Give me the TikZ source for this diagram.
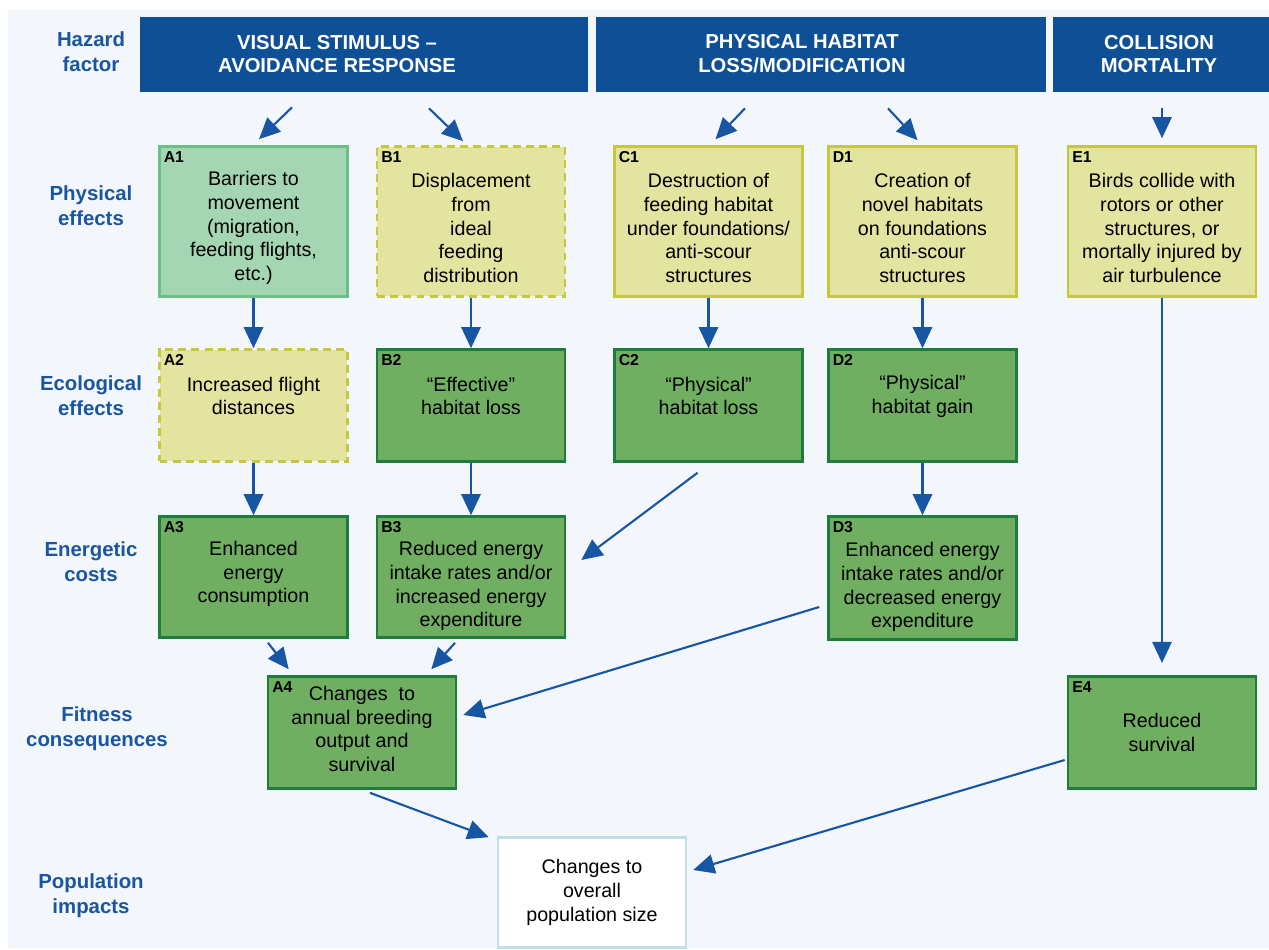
\documentclass[tikz,border=0pt]{standalone}
\usepackage{fontspec}
\setmainfont{Liberation Sans}
\usetikzlibrary{arrows.meta}

\definecolor{bg}{HTML}{F3F6FB}
\definecolor{hdrblue}{HTML}{0F4F96}
\definecolor{lblblue}{HTML}{1A56A0}
\definecolor{arrblue}{HTML}{1656A3}
\definecolor{lgfill}{HTML}{A5D6B3}
\definecolor{lgdraw}{HTML}{6CBF85}
\definecolor{yfill}{HTML}{E2E49F}
\definecolor{ydraw}{HTML}{C5C83F}
\definecolor{gfill}{HTML}{70AE62}
\definecolor{gdraw}{HTML}{1E7D3C}
\definecolor{popdraw}{HTML}{C2DFE8}

\begin{document}
\begin{tikzpicture}[x=0.02cm,y=-0.02cm]
\tikzset{box/.style={line width=1.5pt,minimum width=3.76cm,inner sep=0pt}}
\tikzset{lgbox/.style={box,draw=lgdraw,fill=lgfill}}
\tikzset{ybox/.style={box,draw=ydraw,fill=yfill}}
\tikzset{dbox/.style={ybox,dash pattern=on 4.5pt off 3pt}}
\tikzset{gbox/.style={box,draw=gdraw,fill=gfill}}
\tikzset{boxid/.style={anchor=north west,inner xsep=3pt,inner ysep=3.5pt,font=\bfseries\fontsize{9}{10}\selectfont}}
\tikzset{txt/.style={align=center,inner sep=0pt,font=\fontsize{11.2}{13.6}\selectfont}}
\tikzset{hdr/.style={fill=hdrblue,minimum height=1.5cm,inner sep=0pt}}
\tikzset{htxt/.style={align=center,text=white,font=\bfseries\fontsize{11.5}{13.6}\selectfont}}
\tikzset{row/.style={align=center,text=lblblue,font=\bfseries\fontsize{11.6}{14}\selectfont}}
\tikzset{arr/.style={draw=arrblue,line width=1.2pt,-{Triangle[length=12pt,width=11pt]}}}

\fill[white] (0,0) rectangle (1269,950);
\fill[bg] (8,10) rectangle (1269,948);
\useasboundingbox (0,0) rectangle (1269,950);

% row labels
\node[row] (hz) at (91,52) {Hazard\\factor};
\node[row] (pe) at (91,205.5) {Physical\\effects};
\node[row] (ee) at (91,396) {Ecological\\effects};
\node[row] (ec) at (91,562) {Energetic\\costs};
\node[row] (fc) at (97,729) {Fitness\\consequences};
\node[row] (pi) at (91,895.5) {Population\\impacts};

% hazard factors
\node[hdr,minimum width=8.96cm] (vis) at (364,54.5) {};
\node[hdr,minimum width=9cm] (phy) at (821,54.5) {};
\node[hdr,minimum width=4.32cm] (col) at (1161,54.5) {};
\node[htxt] (vist) at (337,54) {VISUAL STIMULUS --\\AVOIDANCE RESPONSE};
\node[htxt] (phyt) at (802,54) {PHYSICAL HABITAT\\LOSS/MODIFICATION};
\node[htxt] (colt) at (1159,54) {COLLISION\\MORTALITY};

% physical effects
\node[lgbox,minimum height=3cm,label={[boxid]north west:A1}] (A1) at (253.5,221.5) {};
\node[dbox,minimum height=3cm,label={[boxid]north west:B1}] (B1) at (471,221.5) {};
\node[ybox,minimum height=3cm,label={[boxid]north west:C1}] (C1) at (708.5,221.5) {};
\node[ybox,minimum height=3cm,label={[boxid]north west:D1}] (D1) at (922.5,221.5) {};
\node[ybox,minimum height=3cm,label={[boxid]north west:E1}] (E1) at (1162,221.5) {};
\node[txt] (A1t) at ([shift={(0,6.5)}]A1) {Barriers to\\movement\\(migration,\\feeding flights,\\etc.)};
\node[txt] (B1t) at ([shift={(0,6.5)}]B1) {Displacement\\from\\ideal\\feeding\\distribution};
\node[txt] (C1t) at ([shift={(0,6.5)}]C1) {Destruction of\\feeding habitat\\under foundations/\\anti-scour\\structures};
\node[txt] (D1t) at ([shift={(0,6.5)}]D1) {Creation of\\novel habitats\\on foundations\\anti-scour\\structures};
\node[txt] (E1t) at ([shift={(0,6.5)}]E1) {Birds collide with\\rotors or other\\structures, or\\mortally injured by\\air turbulence};

% ecological effects
\node[dbox,minimum height=2.24cm,label={[boxid]north west:A2}] (A2) at (253.5,405.5) {};
\node[gbox,minimum height=2.24cm,label={[boxid]north west:B2}] (B2) at (471,405.5) {};
\node[gbox,minimum height=2.24cm,label={[boxid]north west:C2}] (C2) at (708.5,405.5) {};
\node[gbox,minimum height=2.24cm,label={[boxid]north west:D2}] (D2) at (922.5,405.5) {};
\node[txt] (A2t) at ([shift={(0,-9.5)}]A2) {Increased flight\\distances};
\node[txt] (B2t) at ([shift={(0,-9.5)}]B2) {“Effective”\\habitat loss};
\node[txt] (C2t) at ([shift={(0,-9.5)}]C2) {“Physical”\\habitat loss};
\node[txt] (D2t) at ([shift={(0,-9.5)}]D2) {“Physical”\\habitat gain};

% energetic costs
\node[gbox,minimum height=2.42cm,label={[boxid]north west:A3}] (A3) at (253.5,577) {};
\node[gbox,minimum height=2.42cm,label={[boxid]north west:B3}] (B3) at (471,577) {};
\node[gbox,minimum height=2.46cm,label={[boxid]north west:D3}] (D3) at (922.5,578) {};
\node[txt] (A3t) at ([shift={(0,-3)}]A3) {Enhanced\\energy\\consumption};
\node[txt] (B3t) at ([shift={(0,9)}]B3) {Reduced energy\\intake rates and/or\\increased energy\\expenditure};
\node[txt] (D3t) at ([shift={(0,9)}]D3) {Enhanced energy\\intake rates and/or\\decreased energy\\expenditure};

% fitness consequences
\node[gbox,minimum height=2.24cm,label={[boxid]north west:A4}] (A4) at (362,732.5) {};
\node[gbox,minimum height=2.24cm,label={[boxid]north west:E4}] (E4) at (1162,732.5) {};
\node[txt] (A4t) at ([shift={(0,-3.5)}]A4) {Changes \ to\\annual breeding\\output and\\survival};
\node[txt] (E4t) at (E4) {Reduced\\survival};

% population impacts
\node[box,draw=popdraw,fill=white,minimum height=2.2cm] (pop) at (592,892.5) {};
\node[txt] (popt) at (pop) {Changes to\\overall\\population size};

% arrows
\draw[arr] ([shift={(-72,15)}]vis.south) -- ([shift={(5.5,-6)}]A1.north);
\draw[arr] ([shift={(65,16)}]vis.south) -- ([shift={(-8,-4)}]B1.north);
\draw[arr] ([shift={(-76,16)}]phy.south) -- ([shift={(7,-6)}]C1.north);
\draw[arr] ([shift={(67,16)}]phy.south) -- ([shift={(-5,-5)}]D1.north);
\draw[arr] ([shift={(1,16)}]col.south) -- ([shift={(0,-7)}]E1.north);

\draw[arr] (A1) -- (A2);
\draw[arr] (B1) -- (B2);
\draw[arr] (C1) -- (C2);
\draw[arr] (D1) -- (D2);
\draw[arr] (A2) -- (A3);
\draw[arr] (B2) -- (B3);
\draw[arr] (D2) -- (D3);
\draw[arr] ([shift={(-11,10)}]C2.south) -- ([shift={(15,-17)}]B3.east);

\draw[arr] ([shift={(14.5,4)}]A3.south) -- ([shift={(22,-6)}]A4.north west);
\draw[arr] ([shift={(-16,4)}]B3.south) -- ([shift={(-26,-6)}]A4.north east);
\draw[arr] ([shift={(-8,29)}]D3.west) -- ([shift={(6,-17.5)}]A4.east);
\draw[arr, shorten >=7pt] (E1) -- (E4);

\draw[arr] ([shift={(8,3)}]A4.south) -- ([shift={(-8,1)}]pop.north west);
\draw[arr] ([shift={(-2,27.5)}]E4.west) -- ([shift={(6,-22.5)}]pop.east);
\end{tikzpicture}
\end{document}
